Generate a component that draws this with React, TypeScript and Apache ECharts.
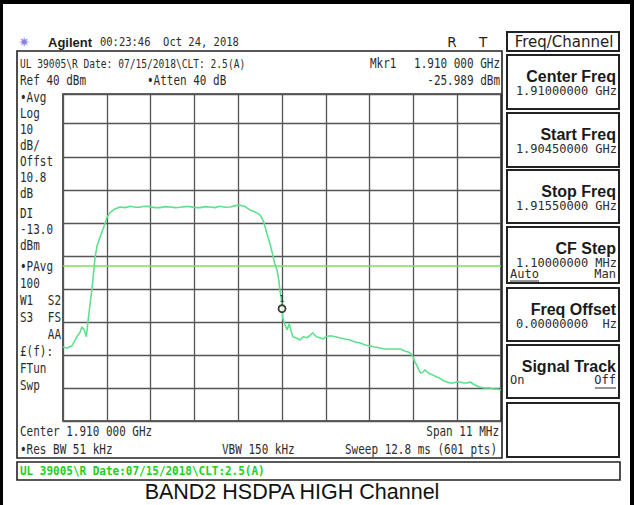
import React, { useEffect, useRef } from "react";
import * as echarts from "echarts";

// ---- data (x = sweep point index 0..600, y = dBm) ----
const sweepPoints = 600;
const refLevel = 39; // top of grid in dBm (Ref 40 dBm, 10 dB/div)
const bottomLevel = -60;
const dbPerDiv = 10;
const pointsPerDiv = 60;

const tracePoints: [number, number][] = [
  [0, -37.6], [6, -37.9], [12, -37.3], [19, -34.5], [23, -33.3], [26, -31.5], [29, -32.4], [32, -34.5],
  [34, -30.3], [37, -24.8], [40, -19.4], [44, -10.3], [47, -6.7], [51, -4.2], [58, 0.0], [60, 1.5],
  [64, 3.0], [71, 4.2], [78, 4.8], [85, 4.6], [92, 5.0], [99, 4.7], [105, 4.7], [112, 5.0], [119, 4.9],
  [126, 4.6], [133, 4.6], [140, 4.9], [147, 4.8], [154, 4.6], [160, 4.7], [167, 4.9], [174, 4.9],
  [181, 4.6], [188, 4.6], [195, 4.9], [201, 4.8], [208, 4.6], [215, 5.0], [222, 4.7], [229, 4.8],
  [236, 5.2], [242, 5.3], [249, 5.0], [256, 3.9], [263, 3.3], [270, 2.4], [275, 0.3], [279, -3.0],
  [284, -6.7], [288, -10.3], [290, -12.4], [293, -14.2], [296, -17.9], [297, -20.3], [299, -22.7],
  [300, -25.99], [301, -28.8], [304, -30.9], [307, -32.4], [310, -30.6], [312, -32.4], [315, -34.5],
  [319, -34.8], [325, -35.5], [329, -34.5], [334, -34.8], [338, -34.2], [342, -33.3], [347, -34.5],
  [352, -34.8], [356, -35.2], [360, -34.5], [366, -34.2], [373, -34.5], [379, -34.8], [386, -35.2],
  [393, -35.5], [400, -36.1], [407, -36.4], [414, -37.0], [421, -37.3], [427, -37.6], [434, -37.9],
  [441, -38.2], [448, -38.2], [455, -38.2], [462, -38.2], [468, -38.8], [473, -39.1], [477, -39.7],
  [479, -40.3], [482, -42.1], [485, -43.3], [488, -44.8], [490, -45.5], [493, -45.2], [496, -44.5],
  [499, -45.2], [503, -45.8], [507, -46.1], [512, -46.7], [516, -47.0], [522, -47.9], [526, -48.2],
  [530, -48.5], [534, -48.5], [540, -48.2], [544, -48.2], [549, -48.5], [553, -48.5], [558, -48.2],
  [562, -48.8], [567, -49.4], [571, -49.7], [577, -50.0], [581, -50.0], [585, -50.0], [589, -50.3],
  [595, -50.3], [600, -50.6],
];

const displayLineDbm = -13.0;
const markerPoint: [number, number] = [300, -25.989];
const markerLabel = "1";

const headerTime = "00:23:46  Oct 24, 2018";
const titleLine = "UL 39005\\R Date: 07/15/2018\\CLT: 2.5(A)";
const statusLine = "UL 39005\\R Date:07/15/2018\\CLT:2.5(A)";
const caption = "BAND2 HSDPA HIGH Channel";

const leftLabels: [string, number][] = [
  ["•Avg", 98], ["Log", 114], ["10", 130], ["dB/", 146], ["Offst", 162], ["10.8", 178], ["dB", 194],
  ["DI", 214], ["-13.0", 230], ["dBm", 246], ["•PAvg", 267], ["100", 284], ["W1", 301], ["S3", 318],
  ["£(f):", 352], ["FTun", 369], ["Swp", 386],
];
const leftRightLabels: [string, number][] = [["S2", 301], ["FS", 318], ["AA", 335]];

const softkeys: { label: string; value?: string; left?: string; right?: string; y: number; h: number }[] = [
  { label: "Center Freq", value: "1.91000000 GHz", y: 55, h: 54 },
  { label: "Start Freq", value: "1.90450000 GHz", y: 113, h: 54 },
  { label: "Stop Freq", value: "1.91550000 GHz", y: 170, h: 53 },
  { label: "CF Step", value: "1.10000000 MHz", left: "Auto", right: "Man", y: 227, h: 56 },
  { label: "Freq Offset", value: "0.00000000  Hz", y: 288, h: 53 },
  { label: "Signal Track", left: "On", right: "Off", y: 345, h: 53 },
  { label: "", y: 403, h: 54 },
];

const MONO = "DejaVu Sans Mono";
const SANS = "Liberation Sans";
const INK = "#2c2c2c";

function txt(text: string, x: number, y: number, o: any = {}) {
  const align = o.a ?? "left";
  return {
    type: "text",
    x,
    y,
    scaleY: o.sy ?? 1.2,
    silent: true,
    z: 10,
    style: {
      text,
      fontFamily: o.ff ?? MONO,
      fontSize: o.fs ?? 11,
      fontWeight: o.fw ?? "normal",
      fill: o.c ?? INK,
      align,
      textAlign: align,
      verticalAlign: "middle",
      textVerticalAlign: "middle",
    },
  };
}

function box(x: number, y: number, w: number, h: number, lw = 1.5, stroke = "#222") {
  return {
    type: "rect",
    silent: true,
    z: 9,
    shape: { x, y, width: w, height: h },
    style: { fill: "none", stroke, lineWidth: lw },
  };
}

function hline(x1: number, x2: number, y: number, lw = 1, stroke = INK) {
  return {
    type: "line",
    silent: true,
    z: 9,
    shape: { x1, y1: y, x2, y2: y },
    style: { stroke, lineWidth: lw },
  };
}

export default function App() {
  const ref = useRef<HTMLDivElement>(null);

  useEffect(() => {
    const chart = echarts.init(ref.current!, null, { renderer: "svg" });

    const graphics: any[] = [];
    // outer black frame
    graphics.push({ type: "rect", silent: true, shape: { x: 0, y: 0, width: 634, height: 4 }, style: { fill: "#000" } });
    graphics.push({ type: "rect", silent: true, shape: { x: 0, y: 0, width: 3, height: 505 }, style: { fill: "#000" } });
    graphics.push({ type: "rect", silent: true, shape: { x: 630, y: 0, width: 4, height: 505 }, style: { fill: "#000" } });

    // header
    graphics.push(txt("✷", 24, 42, { ff: "DejaVu Sans", fs: 14, sy: 1, c: "#8f7fe6", a: "center" }));
    graphics.push(txt("Agilent", 48, 42, { ff: SANS, fs: 13, fw: "bold", sy: 1.05, c: "#1e1e1e" }));
    graphics.push(txt(headerTime, 100, 42, { fs: 10.5 }));
    graphics.push(txt("R", 452, 42, { ff: "DejaVu Sans", fs: 13.5, sy: 1.05, c: "#222", a: "center" }));
    graphics.push(txt("T", 483, 42, { ff: "DejaVu Sans", fs: 13.5, sy: 1.05, c: "#222", a: "center" }));

    // screen box
    graphics.push(box(17, 51, 485, 407, 1.6));
    graphics.push(txt(titleLine, 20, 64, { fs: 9.6 }));
    graphics.push(txt("Mkr1", 370, 64));
    graphics.push(txt("1.910 000 GHz", 500, 64, { a: "right" }));
    graphics.push(txt("Ref 40 dBm", 20, 81));
    graphics.push(txt("•Atten 40 dB", 147, 81));
    graphics.push(txt("-25.989 dBm", 500, 81, { a: "right" }));
    leftLabels.forEach(([t, y]) => graphics.push(txt(t, 20, y)));
    leftRightLabels.forEach(([t, y]) => graphics.push(txt(t, 61, y, { a: "right" })));
    graphics.push(txt("Center 1.910 000 GHz", 20, 432));
    graphics.push(txt("Span 11 MHz", 499, 432, { a: "right" }));
    graphics.push(txt("•Res BW 51 kHz", 20, 450));
    graphics.push(txt("VBW 150 kHz", 222, 450));
    graphics.push(txt("Sweep 12.8 ms (601 pts)", 497, 450, { a: "right" }));

    // status bar
    graphics.push(box(17, 462, 603, 18, 1.6));
    graphics.push(txt(statusLine, 20, 471, { fw: "bold", c: "#20d020", sy: 1.1 }));

    // caption
    graphics.push(txt(caption, 292, 492, { ff: SANS, fs: 21.5, sy: 1, c: "#111", a: "center" }));

    // softkeys
    graphics.push(box(507, 32, 112, 19, 2));
    graphics.push(txt("Freq/Channel", 564, 42, { ff: "DejaVu Sans", fs: 15, sy: 1, c: "#1e1e1e", a: "center" }));
    softkeys.forEach((k) => {
      graphics.push(box(507, k.y, 112, k.h, 2));
      if (k.label) graphics.push(txt(k.label, 616, k.y + 21, { ff: SANS, fs: 16, fw: "bold", sy: 1, c: "#1a1a1a", a: "right" }));
      if (k.value) graphics.push(txt(k.value, 617, k.y + 36, { fs: 12, sy: 1.05, a: "right" }));
      const yy = k.value ? k.y + 47 : k.y + 35;
      if (k.left) graphics.push(txt(k.left, 510, yy, { fs: 12, sy: 1.05 }));
      if (k.right) graphics.push(txt(k.right, 616, yy, { fs: 12, sy: 1.05, a: "right" }));
    });
    // underlines for the active choices
    graphics.push(hline(510, 539, 281, 1));
    graphics.push(hline(595, 616, 388, 1));

    const option: any = {
      animation: false,
      backgroundColor: "#ffffff",
      grid: {
        left: 63,
        top: 94,
        width: 438,
        height: 327,
        show: true,
        borderColor: "#333",
        borderWidth: 1.6,
        backgroundColor: "transparent",
      },
      xAxis: {
        type: "value",
        min: 0,
        max: sweepPoints,
        interval: pointsPerDiv,
        axisLine: { show: false },
        axisTick: { show: false },
        axisLabel: { show: false },
        splitLine: { show: true, lineStyle: { color: "#555", width: 1.3 } },
      },
      yAxis: {
        type: "value",
        min: bottomLevel,
        max: refLevel,
        interval: dbPerDiv,
        axisLine: { show: false },
        axisTick: { show: false },
        axisLabel: { show: false },
        splitLine: { show: true, lineStyle: { color: "#555", width: 1.3 } },
      },
      series: [
        {
          type: "line",
          data: tracePoints,
          showSymbol: false,
          symbol: "none",
          z: 3,
          lineStyle: { color: "#5ee08e", width: 1.6 },
          markLine: {
            silent: true,
            symbol: ["none", "none"],
            label: { show: false },
            lineStyle: { color: "#76e35a", width: 1.6, type: "solid" },
            data: [{ yAxis: displayLineDbm }],
          },
        },
        {
          type: "scatter",
          data: [markerPoint],
          symbol: "circle",
          symbolSize: 7,
          z: 5,
          itemStyle: { color: "#ffffff", borderColor: "#111", borderWidth: 1.8 },
          label: {
            show: true,
            formatter: markerLabel,
            position: "top",
            distance: 1,
            fontSize: 9,
            color: "#111",
            fontFamily: MONO,
          },
        },
      ],
      graphic: { elements: graphics },
    };

    chart.setOption(option);
    return () => chart.dispose();
  }, []);

  return (
    <div
      ref={ref}
      style={{ position: "absolute", left: 0, top: 0, width: 634, height: 505, background: "#fff" }}
    />
  );
}
